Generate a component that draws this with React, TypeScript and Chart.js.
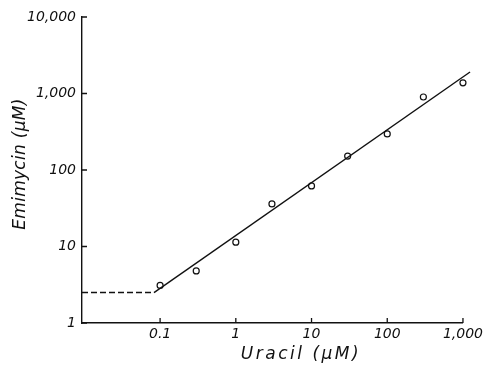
import React, { useEffect, useRef } from "react";
import { Chart, registerables } from "chart.js";
Chart.register(...registerables);

const uracil = [0.1, 0.3, 1, 3, 10, 30, 100, 300, 1000];
const emimycin = [3.1, 4.8, 11.4, 36, 62, 152, 296, 900, 1380];
const fitX = [0.083, 1240];
const fitY = [2.5, 1910];
const plateauX = [0.0093, 0.083];
const plateauY = [2.5, 2.5];
const xTickValues = [0.1, 1, 10, 100, 1000];
const xTickLabels = ["0.1", "1", "10", "100", "1,000"];
const yTickValues = [1, 10, 100, 1000, 10000];
const yTickLabels = ["1", "10", "100", "1,000", "10,000"];
const xTitle = "Uracil (μM)";
const yTitle = "Emimycin (μM)";

const FONT = "'DejaVu Sans', sans-serif";

const decorPlugin = {
  id: "decor",
  afterDraw(chart: any) {
    const ctx = chart.ctx;
    const xs = chart.scales.x;
    const ys = chart.scales.y;
    const area = chart.chartArea;
    ctx.save();
    ctx.strokeStyle = "#111";
    ctx.lineWidth = 1.3;
    ctx.beginPath();
    xTickValues.forEach((v) => {
      const px = xs.getPixelForValue(v);
      ctx.moveTo(px, area.bottom);
      ctx.lineTo(px, area.bottom - 5);
    });
    yTickValues.forEach((v) => {
      const py = ys.getPixelForValue(v);
      ctx.moveTo(area.left, py);
      ctx.lineTo(area.left + 5, py);
    });
    ctx.stroke();

    ctx.fillStyle = "#111";
    ctx.font = `italic 17px ${FONT}`;
    ctx.textAlign = "center";
    ctx.textBaseline = "middle";
    (ctx as any).letterSpacing = "2.5px";
    ctx.fillText(xTitle, 301, 355);
    (ctx as any).letterSpacing = "0.3px";
    ctx.translate(21, 164);
    ctx.rotate(-Math.PI / 2);
    ctx.fillText(yTitle, 0, 0);
    ctx.restore();
  },
};

export default function App() {
  const ref = useRef<HTMLCanvasElement>(null);
  useEffect(() => {
    if (!ref.current) return;
    const chart = new Chart(ref.current, {
      type: "scatter",
      data: {
        datasets: [
          {
            type: "line",
            data: plateauX.map((x, i) => ({ x, y: plateauY[i] })),
            borderColor: "#111",
            borderWidth: 1.4,
            borderDash: [6, 3],
            pointRadius: 0,
            fill: false,
          },
          {
            type: "line",
            data: fitX.map((x, i) => ({ x, y: fitY[i] })),
            borderColor: "#111",
            borderWidth: 1.4,
            pointRadius: 0,
            fill: false,
            clip: false,
          } as any,
          {
            data: uracil.map((x, i) => ({ x, y: emimycin[i] })),
            pointRadius: 3,
            pointBorderWidth: 1.2,
            pointBorderColor: "#111",
            pointBackgroundColor: "#fff",
            clip: false,
          } as any,
        ],
      },
      options: {
        responsive: false,
        animation: false,
        layout: { padding: { top: 17, right: 23, left: 0, bottom: 0 } },
        plugins: { legend: { display: false }, tooltip: { enabled: false } },
        scales: {
          x: {
            type: "logarithmic",
            min: 0.0093,
            max: 1000,
            grid: { display: false, drawTicks: false },
            border: { display: true, color: "#111", width: 1.4 },
            afterBuildTicks: (s: any) => {
              s.ticks = xTickValues.map((v) => ({ value: v }));
            },
            afterFit: (s: any) => {
              s.height = 44;
            },
            ticks: {
              autoSkip: false,
              maxRotation: 0,
              padding: 3,
              color: "#111",
              font: { family: FONT, size: 14, style: "italic" },
              callback: (v: any) => {
                const i = xTickValues.indexOf(Number(v));
                return i >= 0 ? xTickLabels[i] : "";
              },
            },
          },
          y: {
            type: "logarithmic",
            min: 1,
            max: 10000,
            grid: { display: false, drawTicks: false },
            border: { display: true, color: "#111", width: 1.4 },
            afterBuildTicks: (s: any) => {
              s.ticks = yTickValues.map((v) => ({ value: v }));
            },
            afterFit: (s: any) => {
              s.width = 82;
            },
            ticks: {
              autoSkip: false,
              padding: 6,
              color: "#111",
              font: { family: FONT, size: 14, style: "italic" },
              callback: (v: any) => {
                const i = yTickValues.indexOf(Number(v));
                return i >= 0 ? yTickLabels[i] : "";
              },
            },
          },
        },
      },
      plugins: [decorPlugin],
    } as any);
    return () => chart.destroy();
  }, []);
  return (
    <div style={{ position: "fixed", left: 0, top: 0, width: 486, height: 367, background: "#fff" }}>
      <canvas ref={ref} width={486} height={367} />
    </div>
  );
}
